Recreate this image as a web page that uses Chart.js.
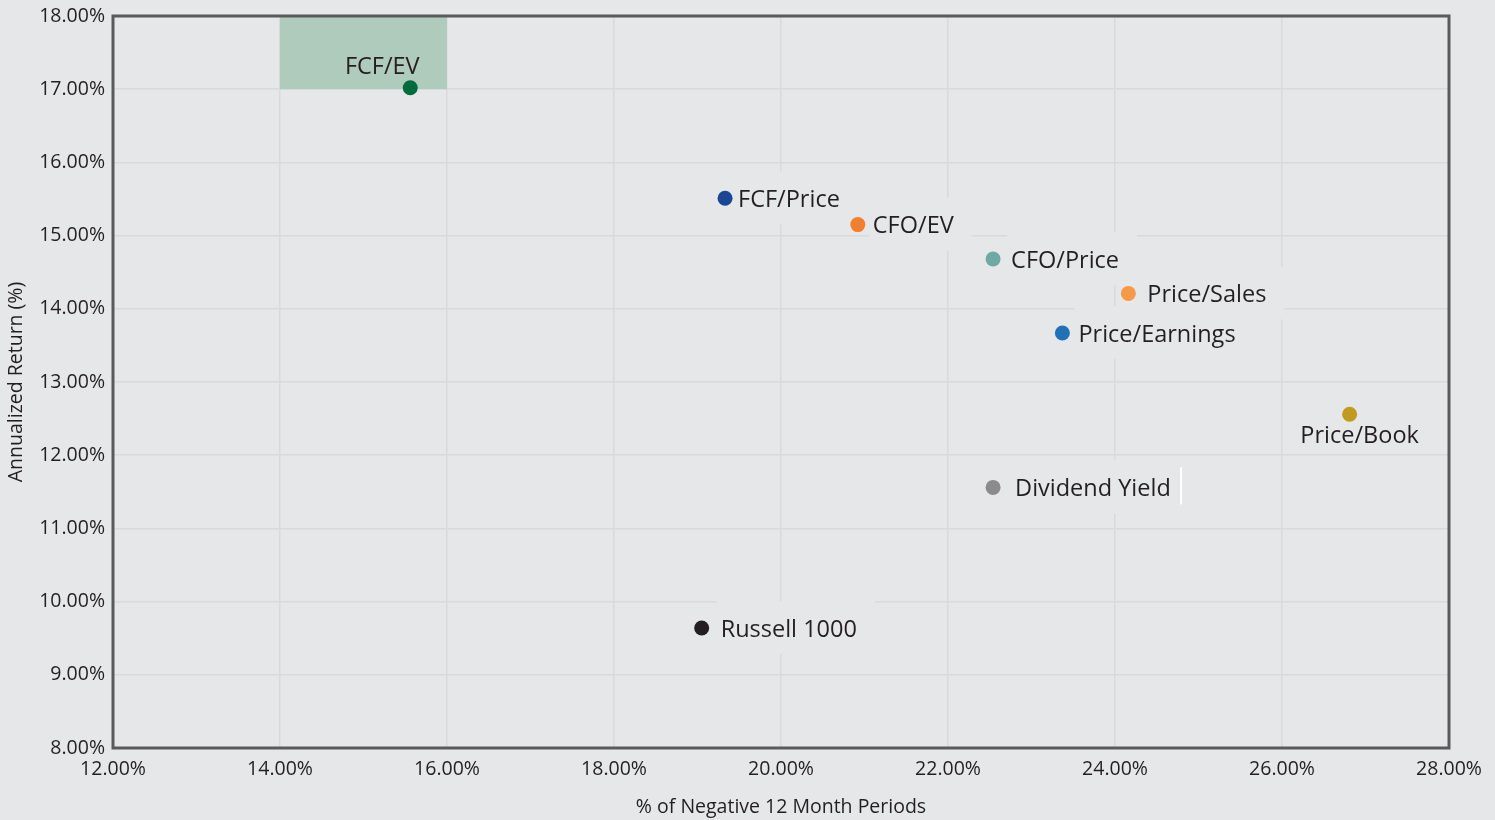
<!DOCTYPE html>
<html><head><meta charset="utf-8">
<script src="https://cdn.jsdelivr.net/npm/chart.js@4.4.1/dist/chart.umd.min.js"></script>
<style>html,body{margin:0;padding:0;background:#e6e7e9;}#wrap{width:1495px;height:820px;}</style>
</head><body><div id="wrap"><canvas id="c" width="1495" height="820"></canvas></div>
<script>
const names = ["FCF/EV","FCF/Price","CFO/EV","CFO/Price","Price/Sales","Price/Earnings","Price/Book","Dividend Yield","Russell 1000"];
const negPeriods = [15.56,19.33,20.92,22.54,24.16,23.37,26.81,22.54,19.05];
const annReturn = [17.02,15.51,15.15,14.68,14.21,13.67,12.56,11.56,9.64];
const pointColors = ["#006b3f","#1b4693","#f17f30","#6fa9a1","#f7994a","#1f71b8","#c19b1e","#8b8b8e","#231f20"];
const labelPlacement = ["above","right","right","right","right","right","below","right","right"];
const labelGap = [0,13,15,18,19,16,0,22,19];
const xTicks = [12,14,16,18,20,22,24,26,28];
const yTicks = [8,9,10,11,12,13,14,15,16,17,18];
const highlightX = [14,16];
const highlightY = [17,18];

const BG = "#e6e7e9";
const FONT = "'Open Sans', 'Noto Sans', sans-serif";
const TXT = "#231f20";
const LABEL_FONT = "23.5px " + FONT;

const plug = {
  id: "deco",
  beforeDraw(chart){
    const ctx = chart.ctx;
    ctx.save(); ctx.fillStyle = BG; ctx.fillRect(0,0,chart.width,chart.height); ctx.restore();
  },
  beforeDatasetsDraw(chart){
    const {ctx, scales:{x,y}} = chart;
    ctx.save();
    ctx.fillStyle = "#afcbbb";
    const x0 = x.getPixelForValue(highlightX[0]), x1 = x.getPixelForValue(highlightX[1]);
    const y0 = y.getPixelForValue(highlightY[1]), y1 = y.getPixelForValue(highlightY[0]);
    ctx.fillRect(x0, y0, x1-x0, y1-y0);
    ctx.font = LABEL_FONT;
    names.forEach((n,i)=>{
      if (labelPlacement[i] !== "right") return;
      const px = x.getPixelForValue(negPeriods[i]), py = y.getPixelForValue(annReturn[i]);
      const w = ctx.measureText(n).width;
      const tx = px + labelGap[i];
      ctx.fillStyle = BG;
      ctx.fillRect(tx-4, py-27, w+22, 53);
    });
    ctx.restore();
  },
  afterDatasetsDraw(chart){
    const {ctx, scales:{x,y}, chartArea:a} = chart;
    ctx.save();
    ctx.font = LABEL_FONT;
    ctx.fillStyle = TXT;
    names.forEach((n,i)=>{
      const px = x.getPixelForValue(negPeriods[i]), py = y.getPixelForValue(annReturn[i]);
      const p = labelPlacement[i];
      if (p === "right"){
        ctx.textAlign = "left"; ctx.textBaseline = "middle";
        ctx.fillText(n, px+labelGap[i], py+2);
      } else if (p === "below"){
        ctx.textAlign = "center"; ctx.textBaseline = "middle";
        ctx.fillText(n, px+10, py+22);
      } else {
        ctx.textAlign = "center"; ctx.textBaseline = "middle";
        ctx.fillText(n, px-28, py-20);
      }
    });
    const di = names.indexOf("Dividend Yield");
    const dx = x.getPixelForValue(negPeriods[di]), dy = y.getPixelForValue(annReturn[di]);
    ctx.strokeStyle = "#ffffff"; ctx.lineWidth = 2;
    ctx.beginPath(); ctx.moveTo(dx+188, dy-20); ctx.lineTo(dx+188, dy+17); ctx.stroke();
    ctx.strokeStyle = "#595a5c"; ctx.lineWidth = 3;
    ctx.strokeRect(a.left, a.top, a.right-a.left, a.bottom-a.top);
    ctx.restore();
  }
};

new Chart(document.getElementById("c"), {
  type: "scatter",
  data: { datasets: [{
    data: negPeriods.map((v,i)=>({x:v, y:annReturn[i]})),
    pointBackgroundColor: pointColors,
    pointBorderWidth: 0,
    pointRadius: 7.5,
    pointHoverRadius: 7.5
  }]},
  options: {
    responsive: false,
    animation: false,
    layout: { padding: { top: 16, right: 46, left: 0, bottom: 0 } },
    plugins: { legend: {display:false}, tooltip:{enabled:false} },
    scales: {
      x: {
        min: 12, max: 28,
        afterBuildTicks(s){ s.ticks = xTicks.map(v=>({value:v})); },
        afterFit(s){ s.height = 72; s.paddingLeft = 0; s.paddingRight = 0; },
        ticks: { color: TXT, font: {family: FONT, size: 19.5}, padding: 10, maxRotation: 0,
          callback: v => v.toFixed(2) + "%" },
        grid: { color: "#d9dadc", lineWidth: 1.5, drawTicks: false },
        border: { display: false },
        title: { display: true, text: "% of Negative 12 Month Periods", color: TXT,
          font: {family: FONT, size: 19.5}, padding: {top: 12, bottom: 1} }
      },
      y: {
        min: 8, max: 18,
        afterBuildTicks(s){ s.ticks = yTicks.map(v=>({value:v})); },
        afterFit(s){ s.width = 113; s.paddingTop = 0; s.paddingBottom = 0; },
        ticks: { color: TXT, font: {family: FONT, size: 19.5}, padding: 8,
          callback: v => v.toFixed(2) + "%" },
        grid: { color: "#d9dadc", lineWidth: 1.5, drawTicks: false },
        border: { display: false },
        title: { display: true, text: "Annualized Return (%)", color: TXT,
          font: {family: FONT, size: 19.5}, padding: {top: 5, bottom: 4} }
      }
    }
  },
  plugins: [plug]
});
</script></body></html>
